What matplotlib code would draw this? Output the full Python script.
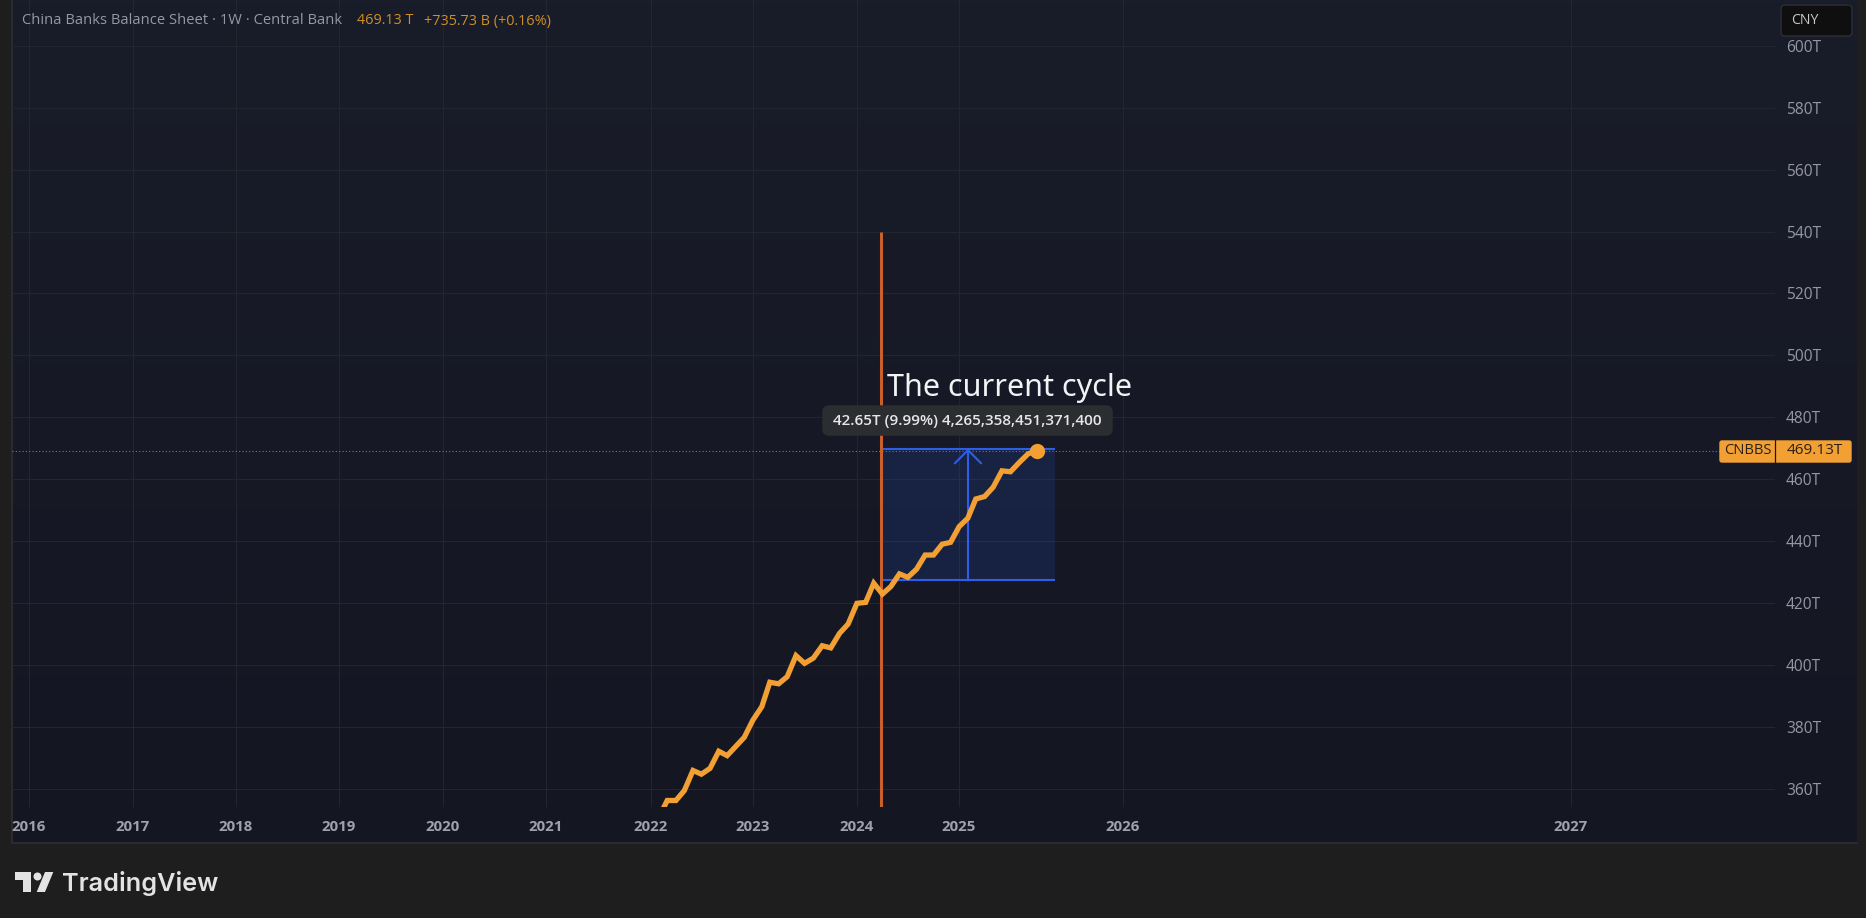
import numpy as np
import pandas as pd
import matplotlib
matplotlib.use("Agg")
import matplotlib.pyplot as plt
from matplotlib.patches import FancyBboxPatch, Polygon, Circle, Rectangle

# monthly closes in trillions of CNY
months = pd.date_range("2022-01-31", periods=45, freq="ME")
balance = [351.1, 356.2, 356.2, 359.4, 365.9, 364.7, 366.6, 372.1, 370.7, 373.7,
           376.6, 382.2, 386.5, 394.4, 393.9, 396.2, 403.0, 400.5, 402.2, 406.2,
           405.5, 410.2, 413.2, 419.9, 420.2, 426.4, 422.9, 425.3, 429.4, 428.3,
           430.9, 435.5, 435.5, 439.0, 439.6, 444.7, 447.4, 453.6, 454.4, 457.4,
           462.7, 462.4, 465.4, 468.2, 469.13]
last_value = 469.13

years = [2016, 2017, 2018, 2019, 2020, 2021, 2022, 2023, 2024, 2025, 2026, 2027]
price_ticks = list(range(360, 601, 20))

cycle_start = 2024.24
cycle_end = 2025.80
cycle_low = 427.35
cycle_high = 469.86
marker_top = 539.85

# the time axis of the chart is bar based, so years are not evenly spaced
time_knots = [2015.84, 2016, 2017, 2018, 2019, 2020, 2021, 2022, 2023, 2024, 2025,
              2025.748, 2026, 2027, 2027.46]
pixel_knots = [12, 29, 133, 236, 339, 443, 546, 650.7, 753, 857, 959,
               1036.7, 1123, 1571, 1775]


def to_pixels(x):
    return np.interp(x, time_knots, pixel_knots)


def to_time(x):
    return np.interp(x, pixel_knots, time_knots)


def decimal_years(dates):
    return dates.year + dates.dayofyear / 365.25


W, H = 1866, 918
BG = "#1e1e1e"
GRID = "#23262f"
LABEL = "#9598a3"
ORANGE = "#f2a033"
BLUE = "#2f5ee6"

fig = plt.figure(figsize=(W / 100, H / 100), dpi=100, facecolor=BG)
plt.rcParams["font.family"] = ["Open Sans", "DejaVu Sans"]

# pane background, slightly lighter towards the top
bg = fig.add_axes([12 / W, 1 - 843 / H, (1857 - 12) / W, 843 / H], zorder=0)
shade = np.linspace(0, 1, 256).reshape(-1, 1)
bg.imshow(shade, aspect="auto", cmap=matplotlib.colors.LinearSegmentedColormap.from_list(
    "pane", ["#191c29", "#141722"]))
bg.set_xticks([])
bg.set_yticks([])
for side in bg.spines:
    bg.spines[side].set_visible(False)
bg.spines["left"].set_visible(True)
bg.spines["bottom"].set_visible(True)
bg.spines["left"].set_color("#2b2c30")
bg.spines["bottom"].set_color("#2b2c30")
bg.spines["left"].set_linewidth(1.4)
bg.spines["bottom"].set_linewidth(1.4)

ax = fig.add_axes([12 / W, 1 - 807 / H, (1775 - 12) / W, 807 / H], zorder=1)
ax.patch.set_alpha(0)
ax.set_xscale("function", functions=(to_pixels, to_time))
ax.set_xlim(2015.84, 2027.46)
ax.set_ylim(354.1, 614.8)
for side in ax.spines:
    ax.spines[side].set_visible(False)

ax.set_xticks(years)
ax.set_xticklabels(years, color="#9fa2ad", fontsize=10.8, fontweight="bold")
ax.xaxis.set_minor_locator(matplotlib.ticker.NullLocator())
ax.yaxis.tick_right()
ax.set_yticks(price_ticks)
ax.set_yticklabels([f"{p}T" for p in price_ticks], color=LABEL, fontsize=11.2)
ax.tick_params(axis="x", length=0, pad=9.2)
ax.tick_params(axis="y", length=0, pad=8.0)
ax.grid(True, color=GRID, lw=0.8)
ax.set_axisbelow(True)

ax.axhline(last_value, color="#777a84", lw=0.8, ls=(0, (1, 2)), zorder=1)

# measured range box
ax.add_patch(Rectangle((cycle_start, cycle_low), cycle_end - cycle_start, cycle_high - cycle_low,
                       facecolor="#2962ff", alpha=0.14, edgecolor="none", zorder=2))
ax.hlines([cycle_low, cycle_high], cycle_start, cycle_end, color=BLUE, lw=1.5, zorder=3)
cycle_mid = float(to_time((to_pixels(cycle_start) + to_pixels(cycle_end)) / 2))
ax.annotate("", xy=(cycle_mid, cycle_high), xytext=(cycle_mid, cycle_low), zorder=3,
            arrowprops=dict(arrowstyle="->,head_length=0.95,head_width=0.95", color=BLUE, lw=1.5,
                            shrinkA=0, shrinkB=0, mutation_scale=10))

ax.vlines(cycle_start, 354.1, marker_top, color="#c9602c", lw=2.2, zorder=4)

ax.plot(decimal_years(months), balance, color=ORANGE, lw=3.8, solid_joinstyle="miter", zorder=5)
ax.plot(decimal_years(months)[-1], last_value, "o", color=ORANGE, ms=11, mew=0, zorder=6)

# everything that is not on the scales, drawn in pixels
ov = fig.add_axes([0, 0, 1, 1], zorder=2)
ov.set_xlim(0, W)
ov.set_ylim(H, 0)
ov.axis("off")

ov.text(887, 396, "The current cycle", color="#f2f3f5", fontsize=22, va="baseline", family="Noto Sans")

ov.add_patch(FancyBboxPatch((825, 408), 285, 25, boxstyle="round,pad=0,rounding_size=4", mutation_aspect=1,
                            facecolor="#2b2d30", edgecolor="#2b2d30", lw=4))
ov.text(967.5, 420.5, "42.65T (9.99%) 4,265,358,451,371,400", color="#e6e7ea", fontsize=11,
        ha="center", va="center", fontweight="semibold")

ov.text(22, 21, "China Banks Balance Sheet · 1W · Central Bank", color="#9699a4", fontsize=10.65, va="center")
ov.text(357, 21, "469.13 T", color="#cf8f27", fontsize=10.4, va="center")
ov.text(424, 21, "+735.73 B (+0.16%)", color="#cf8f27", fontsize=10.4, va="center")

ov.add_patch(FancyBboxPatch((1781, 5), 71, 31, boxstyle="round,pad=0,rounding_size=4",
                            facecolor="#0f0f0f", edgecolor="#2e2f35", lw=1))
ov.text(1791, 20.5, "CNY", color="#c9c9c9", fontsize=10.2, va="center")

ov.add_patch(FancyBboxPatch((1720, 441), 131, 21, boxstyle="round,pad=0,rounding_size=2",
                            facecolor=ORANGE, edgecolor=ORANGE, lw=1))
ov.plot([1775, 1775], [440, 463], color="#1a1a1a", lw=0.9)
ov.text(1747.5, 451, "CNBBS", color="#2a2118", fontsize=10.6, ha="center", va="center")
ov.text(1815, 451, "469.13T", color="#2a2118", fontsize=11.1, ha="center", va="center")

logo = "#e3e3e3"
ov.add_patch(Polygon([(15, 872), (31, 872), (31, 892), (23, 892), (23, 880), (15, 880)], color=logo, lw=0))
ov.add_patch(Circle((37.5, 876.5), 4, color=logo, lw=0))
ov.add_patch(Polygon([(45, 872), (53.3, 872), (45, 892), (36.7, 892)], color=logo, lw=0))
ov.text(62, 883, "TradingView", color=logo, fontsize=18.2, va="center", family="Inter", fontweight="semibold")

fig.savefig("out.png", dpi=100, facecolor=BG)
